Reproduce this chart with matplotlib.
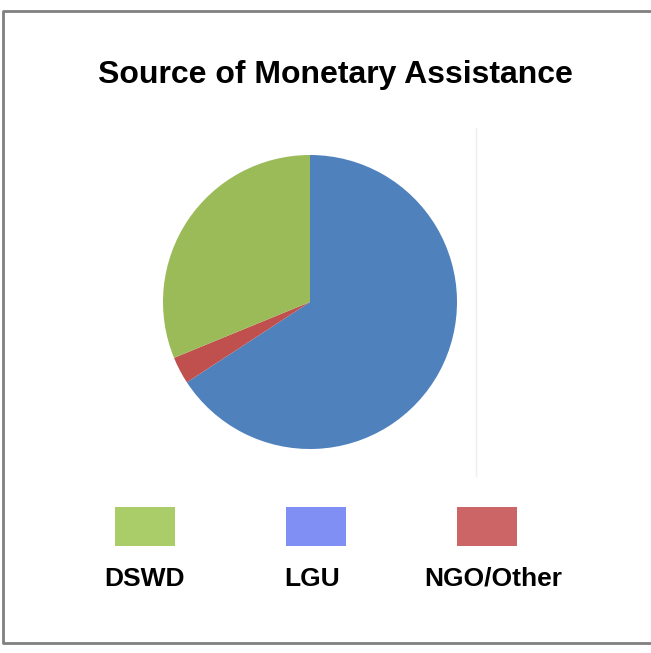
import matplotlib
matplotlib.use("Agg")
import matplotlib.pyplot as plt
from matplotlib.patches import Rectangle
from matplotlib.lines import Line2D

# chart data
categories = ["DSWD", "LGU", "NGO/Other"]
shares = [31.2, 65.8, 3.0]
pie_colors = ["#9BBB59", "#4F81BD", "#C0504D"]
legend_colors = ["#ABCD69", "#7F8FF3", "#CC6666"]
title = "Source of Monetary Assistance"

W, H = 651, 653
plt.rcParams['font.family'] = ['Liberation Sans', 'DejaVu Sans']

fig = plt.figure(figsize=(W / 100, H / 100), dpi=100)

def fx(x):
    return x / W

def fy(y):
    return 1 - y / H

# outer frame (right side cut off in the original)
frame = [(652, 11), (3, 11), (3, 643), (652, 643)]
fig.add_artist(Line2D([fx(p[0]) for p in frame], [fy(p[1]) for p in frame],
                      color="#808080", lw=2, transform=fig.transFigure))

# faint plot area edge
fig.add_artist(Line2D([fx(475.5), fx(475.5)], [fy(128), fy(476)],
                      color="#EEEEEE", lw=1, transform=fig.transFigure))

fig.text(fx(335), fy(75), title, ha="center", va="center",
         fontsize=23, fontweight="bold")

# pie: LGU first clockwise from 12 o'clock, then NGO/Other, then DSWD
cx, cy, r = 310, 302, 147
ax = fig.add_axes([fx(cx - r), fy(cy + r), 2 * r / W, 2 * r / H])
order = [1, 2, 0]
ax.pie([shares[i] for i in order], colors=[pie_colors[i] for i in order],
       startangle=90, counterclock=False, radius=1,
       wedgeprops=dict(linewidth=0))
ax.set_xlim(-1, 1)
ax.set_ylim(-1, 1)
ax.set_aspect("auto")
ax.axis("off")

# legend: swatch above label
centers = [145, 316, 487]
for name, col, x in zip(categories, legend_colors, centers):
    fig.add_artist(Rectangle((fx(x - 30), fy(546)), 60 / W, 39 / H,
                             facecolor=col, edgecolor="none",
                             transform=fig.transFigure))
for name, x in zip(categories, [145, 312, 493]):
    fig.text(fx(x), fy(579), name, ha="center", va="center",
             fontsize=19, fontweight="bold")

fig.savefig("out.png", dpi=100)
